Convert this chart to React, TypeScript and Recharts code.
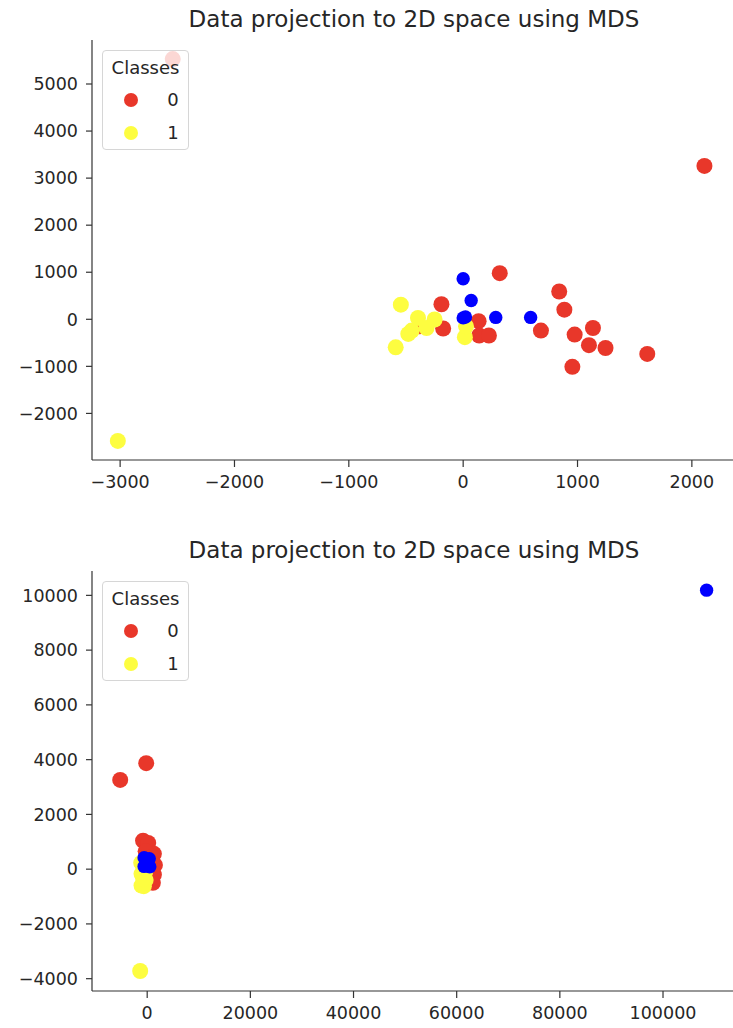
import React from "react";
import { ScatterChart, Scatter, XAxis, YAxis } from "recharts";

const FONT = "'DejaVu Sans', Verdana, sans-serif";
const RED = "#e8372a";
const YELLOW = "#fdfd40";
const BLUE = "#0000ff";

// Panel 1 (top)
const topClass0 = [
  { x: -2540, y: 5530 }, { x: 2110, y: 3260 }, { x: 320, y: 980 }, { x: -190, y: 320 },
  { x: -175, y: -195 }, { x: -380, y: -150 }, { x: 135, y: -40 }, { x: 140, y: -345 },
  { x: 225, y: -345 }, { x: 680, y: -240 }, { x: 840, y: 590 }, { x: 885, y: 205 },
  { x: 975, y: -325 }, { x: 1135, y: -185 }, { x: 1100, y: -550 }, { x: 1245, y: -610 },
  { x: 955, y: -1010 }, { x: 1610, y: -735 },
];
const topClass1 = [
  { x: -3020, y: -2585 }, { x: -545, y: 310 }, { x: -590, y: -595 }, { x: -395, y: 30 },
  { x: -250, y: -5 }, { x: -450, y: -240 }, { x: -480, y: -310 }, { x: -320, y: -185 },
  { x: 15, y: -380 }, { x: 25, y: -150 },
];
const topBlue = [
  { x: 0, y: 860 }, { x: 70, y: 400 }, { x: 0, y: 30 }, { x: 20, y: 50 },
  { x: 285, y: 40 }, { x: 590, y: 40 },
];
const topXTicks = [-3000, -2000, -1000, 0, 1000, 2000];
const topYTicks = [-2000, -1000, 0, 1000, 2000, 3000, 4000, 5000];
const topXDomain = [-3246, 2386];
const topYDomain = [-2990, 5935];

// Panel 2 (bottom)
const botClass0 = [
  { x: -190, y: 3870 }, { x: -5230, y: 3260 }, { x: -800, y: 1040 }, { x: 200, y: 960 },
  { x: 1300, y: 560 }, { x: 1500, y: 150 }, { x: 1300, y: -200 }, { x: 1100, y: -500 },
  { x: 400, y: 300 }, { x: -300, y: 650 }, { x: 800, y: 200 }, { x: 900, y: -100 },
  { x: 600, y: -350 }, { x: 1000, y: 450 },
];
const botClass1 = [
  { x: -1360, y: -3720 }, { x: -1100, y: -170 }, { x: -1100, y: -600 }, { x: -650, y: -620 },
  { x: -300, y: -400 }, { x: -1160, y: 230 }, { x: -775, y: -350 }, { x: -400, y: -100 },
];
const botBlue = [
  { x: 108450, y: 10190 }, { x: -600, y: 420 }, { x: 400, y: 380 }, { x: 500, y: 90 },
  { x: -600, y: 100 }, { x: 0, y: 250 },
];
const botXTicks = [0, 20000, 40000, 60000, 80000, 100000];
const botYTicks = [-4000, -2000, 0, 2000, 4000, 6000, 8000, 10000];
const botXDomain = [-10700, 114150];
const botYDomain = [-4450, 10890];

const TITLE = "Data projection to 2D space using MDS";
const LEGEND_TITLE = "Classes";
const legendItems = [
  { label: "0", color: RED },
  { label: "1", color: YELLOW },
];

const fmt = (v: number) => (v < 0 ? "\u2212" + Math.abs(v) : String(v));

const dot = (r: number, color: string) => (props: any) => (
  <circle cx={props.cx} cy={props.cy} r={r} fill={color} />
);

const tickStyle = { fill: "#262626", fontSize: 17.5, fontFamily: FONT };

function Panel(props: {
  top: number;
  c0: { x: number; y: number }[];
  c1: { x: number; y: number }[];
  blue: { x: number; y: number }[];
  xTicks: number[];
  yTicks: number[];
  xDomain: number[];
  yDomain: number[];
}) {
  const { top, c0, c1, blue, xTicks, yTicks, xDomain, yDomain } = props;
  return (
    <div style={{ position: "absolute", left: 0, top, width: 736, height: 520 }}>
      <div
        style={{
          position: "absolute",
          left: 92,
          width: 644,
          top: 8,
          textAlign: "center",
          fontFamily: FONT,
          fontSize: 23,
          lineHeight: "23px",
          color: "#262626",
          whiteSpace: "nowrap",
        }}
      >
        {TITLE}
      </div>
      <ScatterChart width={736} height={500} margin={{ top: 40, right: 0, bottom: 0, left: 12 }}>
        <XAxis
          xAxisId="top"
          orientation="top"
          type="number"
          dataKey="x"
          domain={xDomain}
          allowDataOverflow
          height={0}
          tick={false}
          tickLine={false}
          axisLine={{ stroke: "#333", strokeWidth: 1.2 }}
        />
        <XAxis
          type="number"
          dataKey="x"
          domain={xDomain}
          allowDataOverflow
          ticks={xTicks}
          interval={0}
          tickFormatter={fmt}
          height={40}
          tickSize={7}
          tickMargin={9}
          tick={tickStyle}
          tickLine={{ stroke: "#333", strokeWidth: 1.2 }}
          axisLine={{ stroke: "#333", strokeWidth: 1.2 }}
        />
        <YAxis
          type="number"
          dataKey="y"
          domain={yDomain}
          allowDataOverflow
          ticks={yTicks}
          interval={0}
          tickFormatter={fmt}
          width={80}
          tickSize={6}
          tickMargin={8}
          tick={tickStyle}
          tickLine={{ stroke: "#333", strokeWidth: 1.2 }}
          axisLine={{ stroke: "#333", strokeWidth: 1.2 }}
        />
        <Scatter data={c0} shape={dot(8, RED)} isAnimationActive={false} />
        <Scatter data={c1} shape={dot(8, YELLOW)} isAnimationActive={false} />
        <Scatter data={blue} shape={dot(6.7, BLUE)} isAnimationActive={false} />
      </ScatterChart>
      <div
        style={{
          position: "absolute",
          left: 102,
          top: 50,
          width: 87,
          height: 100,
          boxSizing: "border-box",
          border: "1px solid #d6d6d6",
          borderRadius: 4,
          background: "rgba(255,255,255,0.8)",
          fontFamily: FONT,
          fontSize: 18,
          color: "#262626",
        }}
      >
        <div
          style={{
            position: "absolute",
            left: 0,
            width: 85,
            top: 17 - 11,
            lineHeight: "22px",
            textAlign: "center",
          }}
        >
          {LEGEND_TITLE}
        </div>
        {legendItems.map((it, i) => (
          <React.Fragment key={it.label}>
            <div
              style={{
                position: "absolute",
                left: 29 - 7 - 1,
                top: 50 + i * 33 - 7 - 1,
                width: 14,
                height: 14,
                borderRadius: 7,
                background: it.color,
              }}
            />
            <div
              style={{
                position: "absolute",
                left: 60,
                width: 20,
                top: 50 + i * 33 - 11 - 1,
                lineHeight: "22px",
                textAlign: "center",
              }}
            >
              {it.label}
            </div>
          </React.Fragment>
        ))}
      </div>
    </div>
  );
}

export default function App() {
  return (
    <div
      style={{
        position: "absolute",
        left: 0,
        top: 0,
        width: 733,
        height: 1028,
        overflow: "hidden",
        background: "#fff",
      }}
    >
      <Panel
        top={0}
        c0={topClass0}
        c1={topClass1}
        blue={topBlue}
        xTicks={topXTicks}
        yTicks={topYTicks}
        xDomain={topXDomain}
        yDomain={topYDomain}
      />
      <Panel
        top={531}
        c0={botClass0}
        c1={botClass1}
        blue={botBlue}
        xTicks={botXTicks}
        yTicks={botYTicks}
        xDomain={botXDomain}
        yDomain={botYDomain}
      />
    </div>
  );
}
